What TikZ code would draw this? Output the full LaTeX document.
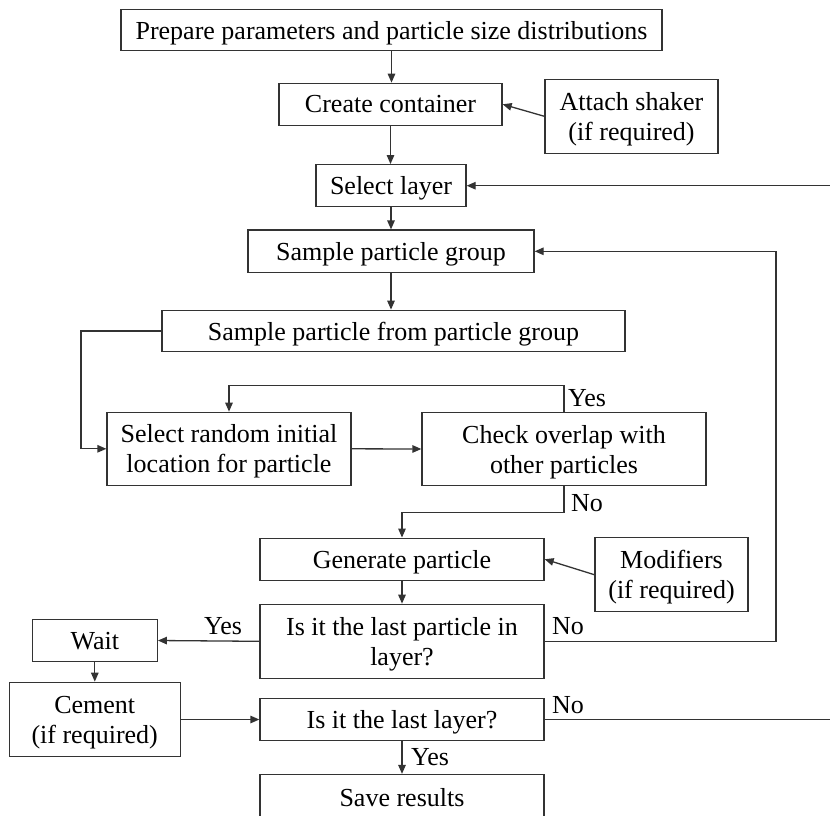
\documentclass[tikz,border=0pt]{standalone}
\usepackage{fontspec}
\setmainfont{Liberation Serif}
\usetikzlibrary{arrows.meta}
\begin{document}
\begin{tikzpicture}[x=1pt,y=-1pt,
  every node/.style={font=\fontsize{26}{30}\selectfont},
  box/.style={draw=black!80,line width=1.3pt,align=center,inner sep=0pt,text depth=0pt},
  lbl/.style={inner sep=0pt,anchor=base west},
  arr/.style={draw=black!80,line width=1.3pt,-{Triangle[length=9pt,width=7.5pt]}},
  ln/.style={draw=black!80,line width=1.3pt}]
\useasboundingbox (0,0) rectangle (830,815);
\node[box,minimum width=541pt,minimum height=41.5pt] (prep) at (391.5,30) {Prepare parameters and particle size distributions};
\node[box,minimum width=223pt,minimum height=42pt] (create) at (390.5,104.3) {Create container};
\node[box,minimum width=173pt,minimum height=74pt] (shaker) at (631.5,116.3) {Attach shaker\\(if required)};
\node[box,minimum width=150pt,minimum height=42pt] (select) at (391,185.7) {Select layer};
\node[box,minimum width=286pt,minimum height=42.5pt] (group) at (391,251.3) {Sample particle group};
\node[box,minimum width=463pt,minimum height=41.5pt] (sampfrom) at (393.5,331) {Sample particle from particle group};
\node[box,minimum width=244pt,minimum height=73pt] (random) at (229,448.8) {Select random initial\\location for particle};
\node[box,minimum width=284pt,minimum height=73.4pt] (overlap) at (564,449) {Check overlap with\\other particles};
\node[box,minimum width=284pt,minimum height=42pt] (generate) at (402,559.2) {Generate particle};
\node[box,minimum width=153pt,minimum height=74pt] (modif) at (671.5,574.7) {Modifiers\\(if required)};
\node[box,minimum width=284pt,minimum height=74pt] (lastpart) at (402,641.3) {Is it the last particle in\\layer?};
\node[box,minimum width=125pt,minimum height=42.4pt] (wait) at (94.8,640.5) {Wait};
\node[box,minimum width=171pt,minimum height=74.4pt] (cement) at (94.7,719.5) {Cement\\(if required)};
\node[box,minimum width=284pt,minimum height=42pt] (lastlayer) at (402,719.7) {Is it the last layer?};
\node[box,minimum width=284pt,minimum height=45pt] (save) at (402,797) {Save results};
\coordinate (inA) at (830,185.7);
\coordinate (outB) at (830,719.7);
% connectors
\draw[arr] (prep.south) -- (prep.south |- create.north);
\draw[arr] (shaker.west) -- (create.east);
\draw[arr] (create.south) -- (create.south |- select.north);
\draw[arr] (inA) -- (select.east);
\draw[arr] (select.south) -- (select.south |- group.north);
\draw[arr] (group.south) -- (group.south |- sampfrom.north);
\draw[arr] (sampfrom.west) -- (81,331) |- (random.west);
\draw[arr] (random.east) -- (overlap.west);
\draw[arr] (overlap.north) -- ++(0,-26) -| (random.north);
\node[lbl] (yes1) at (568,406) {Yes};
\draw[arr] (overlap.south) -- ++(0,26) -| (generate.north);
\node[lbl] (no1) at (571,511) {No};
\draw[arr] (modif.west) -- (generate.east);
\draw[arr] (generate.south) -- (generate.south |- lastpart.north);
\draw[arr] (lastpart.west) -- (wait.east);
\node[lbl] (yes2) at (204,634) {Yes};
\draw[arr] (lastpart.east) -- (776,641.3) |- (group.east);
\node[lbl] (no2) at (552,634) {No};
\draw[arr] (wait.south) -- (wait.south |- cement.north);
\draw[arr] (cement.east) -- (cement.east -| lastlayer.west);
\draw[ln] (lastlayer.east) -- (outB);
\node[lbl] (no3) at (552,713.5) {No};
\draw[arr] (lastlayer.south) -- (save.north);
\node[lbl] (yes3) at (411,765.5) {Yes};
\end{tikzpicture}
\end{document}
